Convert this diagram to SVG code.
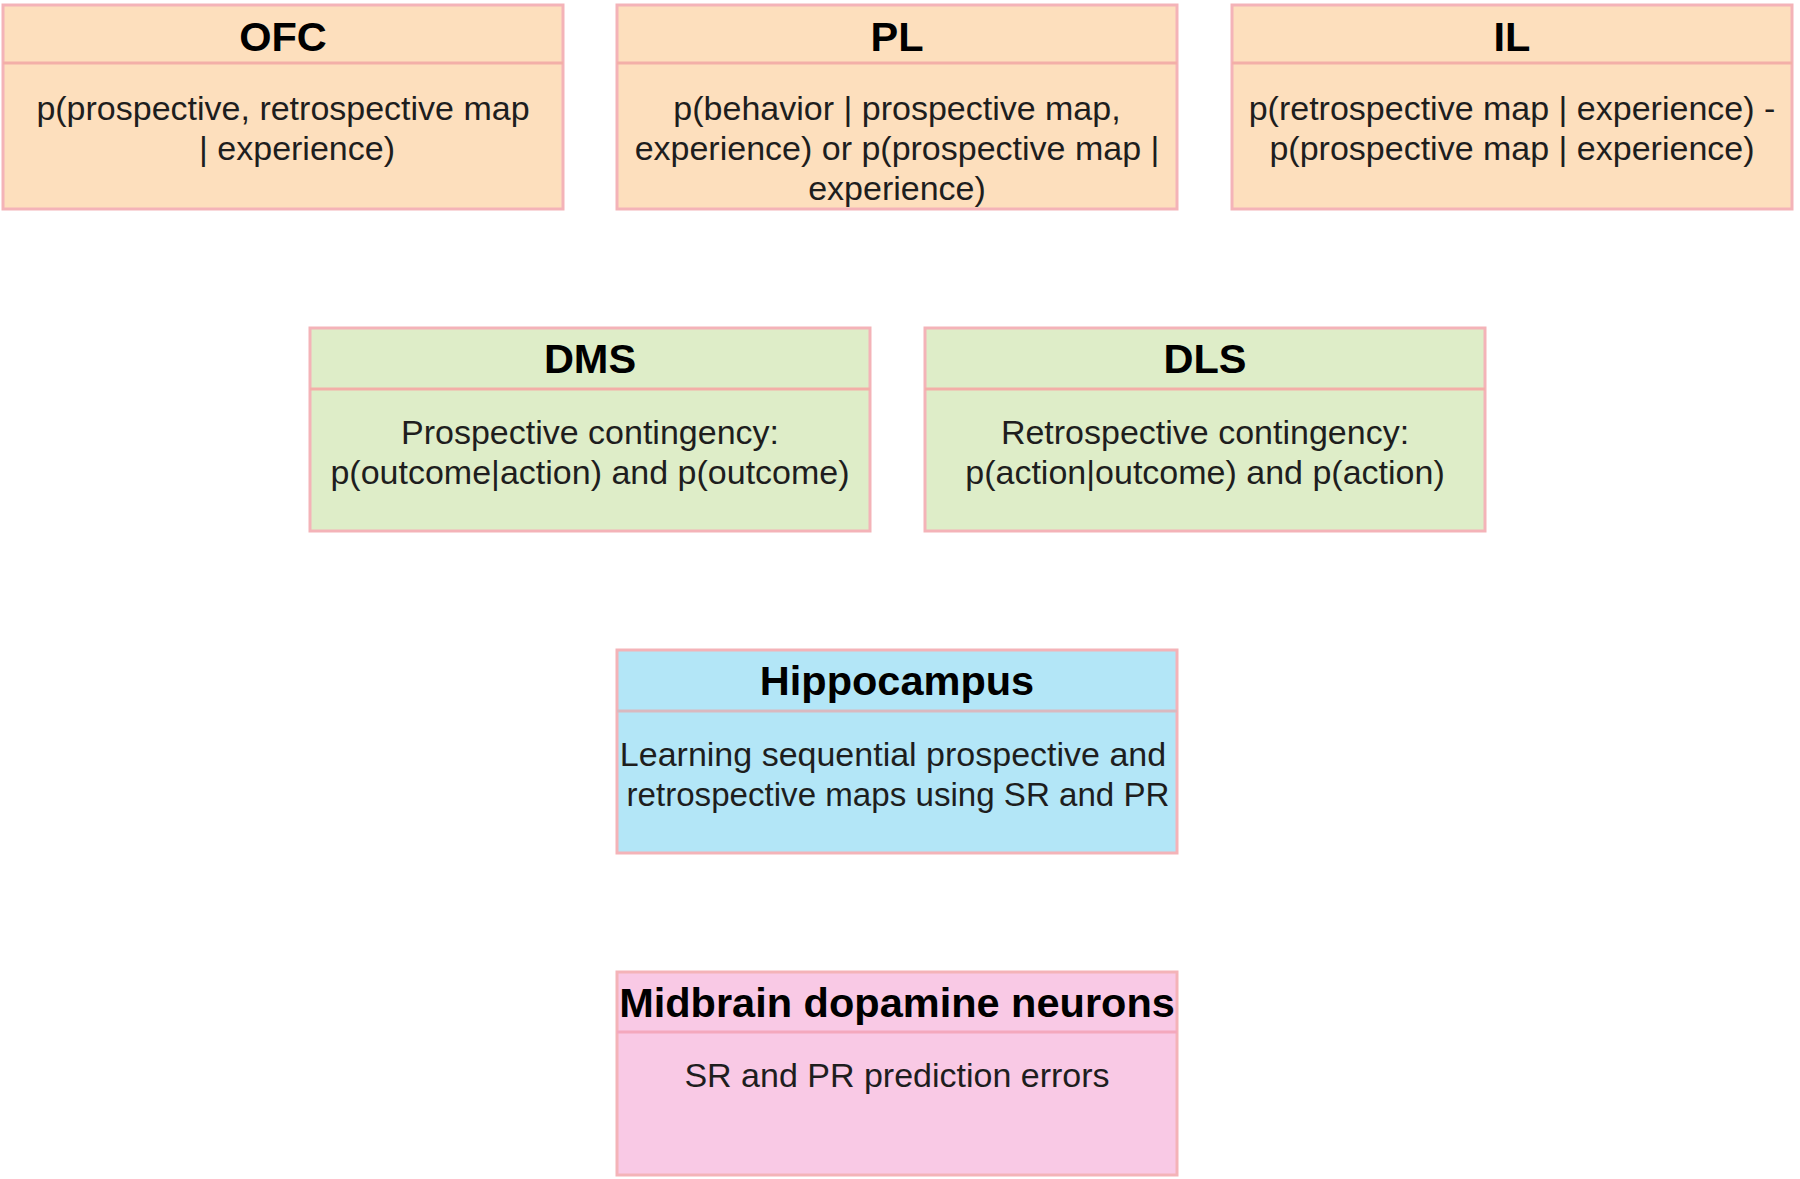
<svg xmlns="http://www.w3.org/2000/svg" width="1800" height="1179" viewBox="0 0 1800 1179">
<style>
.box{stroke:#F4B3B8;stroke-width:3}
.div{stroke:#F3AFA8;stroke-width:3}
.peach{fill:#FDDFBD}
.green{fill:#DEEDC8}
.blue{fill:#B3E6F7}
.pink{fill:#F9C9E5}
.t{font-family:"Liberation Sans",Arial,sans-serif;font-weight:bold;font-size:41.5px;fill:#000;text-anchor:middle}
.b{font-family:"Liberation Sans",Arial,sans-serif;font-size:34px;fill:#1e1e1e;text-anchor:middle}
</style>
<rect width="1800" height="1179" fill="#fff"/>
<g id="connectors"/>
<g id="OFC">
<rect class="box peach" x="3" y="5" width="560" height="204"/>
<line class="div" x1="3" y1="63" x2="563" y2="63"/>
<text class="t" x="283" y="51">OFC</text>
<text class="b" x="283" y="120">p(prospective, retrospective map</text>
<text class="b" x="297" y="160">| experience)</text>
</g>
<g id="PL">
<rect class="box peach" x="617" y="5" width="560" height="204"/>
<line class="div" x1="617" y1="63" x2="1177" y2="63"/>
<text class="t" x="897" y="51">PL</text>
<text class="b" x="897" y="120">p(behavior | prospective map,</text>
<text class="b" x="897" y="160">experience) or p(prospective map |</text>
<text class="b" x="897" y="200">experience)</text>
</g>
<g id="IL">
<rect class="box peach" x="1232" y="5" width="560" height="204"/>
<line class="div" x1="1232" y1="63" x2="1792" y2="63"/>
<text class="t" x="1512" y="51">IL</text>
<text class="b" x="1512" y="120">p(retrospective map | experience) -</text>
<text class="b" x="1512" y="160">p(prospective map | experience)</text>
</g>
<g id="DMS">
<rect class="box green" x="310" y="328" width="560" height="203"/>
<line class="div" x1="310" y1="389" x2="870" y2="389"/>
<text class="t" x="590" y="373">DMS</text>
<text class="b" x="590" y="444">Prospective contingency:</text>
<text class="b" x="590" y="484">p(outcome|action) and p(outcome)</text>
</g>
<g id="DLS">
<rect class="box green" x="925" y="328" width="560" height="203"/>
<line class="div" x1="925" y1="389" x2="1485" y2="389"/>
<text class="t" x="1205" y="373">DLS</text>
<text class="b" x="1205" y="444">Retrospective contingency:</text>
<text class="b" x="1205" y="484">p(action|outcome) and p(action)</text>
</g>
<g id="Hippocampus">
<rect class="box blue" x="617" y="650" width="560" height="203"/>
<line class="div" x1="617" y1="711" x2="1177" y2="711" style="stroke:#D9B9C0"/>
<text class="t" x="897" y="695">Hippocampus</text>
<text class="b" x="893" y="766">Learning sequential prospective and</text>
<text class="b" x="898" y="806" textLength="543" lengthAdjust="spacingAndGlyphs">retrospective maps using SR and PR</text>
</g>
<g id="Midbrain">
<rect class="box pink" x="617" y="972" width="560" height="203"/>
<line class="div" x1="617" y1="1032" x2="1177" y2="1032" style="stroke:#F4A8BD"/>
<text class="t" x="897" y="1017">Midbrain dopamine neurons</text>
<text class="b" x="897" y="1087">SR and PR prediction errors</text>
</g>
</svg>
